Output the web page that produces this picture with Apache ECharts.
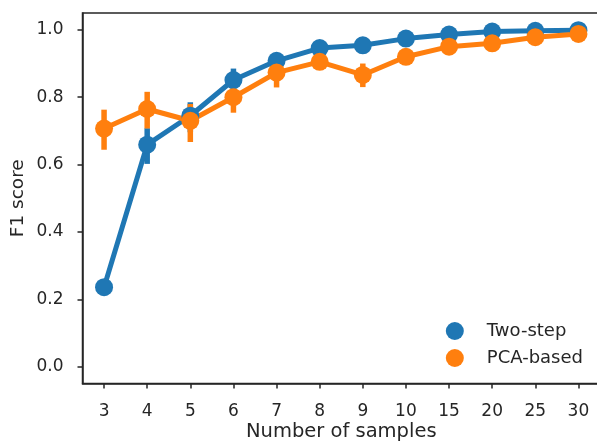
<!DOCTYPE html>
<html>
<head>
<meta charset="utf-8">
<script src="https://cdn.jsdelivr.net/npm/echarts@6/dist/echarts.min.js"></script>
<style>
  html, body { margin: 0; padding: 0; background: #fff; }
  #chart { width: 597px; height: 442px; }
</style>
</head>
<body>
<div id="chart"></div>
<script>
// Number of samples on the x axis
const sampleCounts = ['3', '4', '5', '6', '7', '8', '9', '10', '15', '20', '25', '30'];

// Mean F1 score and confidence interval per sample count
const twoStepMean = [0.236, 0.659, 0.745, 0.851, 0.908, 0.946, 0.954, 0.974, 0.986, 0.995, 0.997, 0.999];
const twoStepLow  = [0.212, 0.602, 0.696, 0.821, 0.895, 0.935, 0.945, 0.967, 0.981, 0.991, 0.994, 0.997];
const twoStepHigh = [0.258, 0.708, 0.785, 0.885, 0.920, 0.956, 0.962, 0.980, 0.991, 0.998, 0.999, 1.000];

const pcaMean = [0.707, 0.765, 0.730, 0.800, 0.873, 0.905, 0.866, 0.920, 0.950, 0.960, 0.978, 0.988];
const pcaLow  = [0.644, 0.707, 0.667, 0.754, 0.829, 0.890, 0.830, 0.905, 0.940, 0.950, 0.970, 0.982];
const pcaHigh = [0.763, 0.816, 0.780, 0.842, 0.906, 0.922, 0.900, 0.935, 0.960, 0.970, 0.986, 0.993];

const yTicks = [0, 0.2, 0.4, 0.6, 0.8, 1.0];

const BLUE = '#1f77b4';
const ORANGE = '#ff7f0e';
const INK = '#262626';
const FONT = 'DejaVu Sans';

function errorBarSeries(name, low, high, color) {
  return {
    type: 'custom',
    name: name,
    data: low.map((v, i) => [i, v, high[i]]),
    encode: { x: 0, y: [1, 2] },
    silent: true,
    clip: false,
    renderItem: function (params, api) {
      const p0 = api.coord([api.value(0), api.value(1)]);
      const p1 = api.coord([api.value(0), api.value(2)]);
      return {
        type: 'line',
        shape: { x1: p0[0], y1: p0[1], x2: p1[0], y2: p1[1] },
        style: { stroke: color, lineWidth: 5.5, lineCap: 'butt' }
      };
    }
  };
}

function pointSeries(name, values, color) {
  return {
    type: 'line',
    name: name,
    data: values,
    symbol: 'circle',
    symbolSize: 18,
    showSymbol: true,
    clip: false,
    color: color,
    itemStyle: { color: color, opacity: 1 },
    lineStyle: { color: color, width: 5 },
    emphasis: { disabled: true }
  };
}

const chart = echarts.init(document.getElementById('chart'), null, { renderer: 'canvas' });

chart.setOption({
  animation: false,
  backgroundColor: '#fff',
  textStyle: { fontFamily: FONT, color: INK },
  grid: {
    left: 82.5,
    right: -3,
    top: 13,
    bottom: 58.5,
    outerBoundsMode: 'none',
    containLabel: false,
    show: true,
    borderColor: INK,
    borderWidth: 1.5,
    backgroundColor: 'transparent'
  },
  legend: {
    right: 9,
    top: 317,
    orient: 'vertical',
    icon: 'circle',
    itemWidth: 54,
    itemHeight: 18,
    itemGap: 9,
    data: ['Two-step', 'PCA-based'],
    textStyle: { fontFamily: FONT, fontSize: 18, color: INK }
  },
  xAxis: {
    type: 'category',
    data: sampleCounts,
    boundaryGap: true,
    name: 'Number of samples',
    nameLocation: 'middle',
    nameGap: 38,
    nameMoveOverlap: false,
    nameTextStyle: { fontFamily: FONT, fontSize: 19.5, color: INK },
    axisLine: { show: true, onZero: false, lineStyle: { color: INK, width: 1.5 } },
    axisTick: { show: true, alignWithLabel: true, length: 5, lineStyle: { color: INK, width: 1.5 } },
    axisLabel: { fontFamily: FONT, fontSize: 17, color: INK, margin: 20 },
    splitLine: { show: false }
  },
  yAxis: {
    type: 'value',
    min: -0.05,
    max: 1.05,
    name: 'F1 score',
    nameLocation: 'middle',
    nameRotate: 90,
    nameGap: 55,
    nameMoveOverlap: false,
    nameTextStyle: { fontFamily: FONT, fontSize: 18.5, color: INK },
    axisLine: { show: true, onZero: false, lineStyle: { color: INK, width: 1.5 } },
    axisTick: { show: true, length: 5, customValues: yTicks, lineStyle: { color: INK, width: 1.5 } },
    axisLabel: {
      fontFamily: FONT, fontSize: 17, color: INK, margin: 19,
      customValues: yTicks,
      formatter: v => Number(v).toFixed(1)
    },
    splitLine: { show: false }
  },
  series: [
    errorBarSeries('Two-step CI', twoStepLow, twoStepHigh, BLUE),
    pointSeries('Two-step', twoStepMean, BLUE),
    errorBarSeries('PCA-based CI', pcaLow, pcaHigh, ORANGE),
    pointSeries('PCA-based', pcaMean, ORANGE)
  ]
});
</script>
</body>
</html>
